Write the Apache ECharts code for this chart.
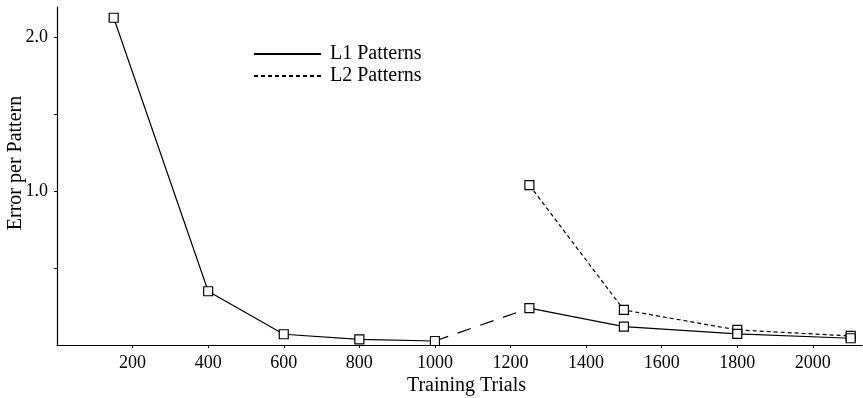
<!DOCTYPE html>
<html>
<head>
<meta charset="utf-8">
<script src="https://cdn.jsdelivr.net/npm/echarts@6/dist/echarts.min.js"></script>
<style>
  html, body { margin: 0; padding: 0; background: #fff; }
  #chart { width: 863px; height: 398px; }
</style>
</head>
<body>
<div id="chart"></div>
<script>
// values
const trialsL1 = [150, 400, 600, 800, 1000, 1250, 1500, 1800, 2100]
const errorL1 = [2.13, 0.35, 0.07, 0.037, 0.026, 0.24, 0.12, 0.072, 0.044]
const trialsL2 = [1250, 1500, 1800, 2100]
const errorL2 = [1.04, 0.228, 0.098, 0.059]
const xTicks = [200, 400, 600, 800, 1000, 1200, 1400, 1600, 1800, 2000]
const yLabels = [1, 2]
const yTicks = [0.5, 1, 1.5, 2]

const serif = '"Liberation Serif", "DejaVu Serif", serif'

// L1 is solid except the 1000 -> 1250 stretch, which is long-dashed
const breakAt = 4
const l1Solid = []
trialsL1.forEach((t, i) => {
  l1Solid.push([t, errorL1[i]])
  if (i === breakAt) l1Solid.push([(t + trialsL1[i + 1]) / 2, '-'])
})
const l1Bridge = [
  [trialsL1[breakAt], errorL1[breakAt]],
  [trialsL1[breakAt + 1], errorL1[breakAt + 1]]
]
const l2Data = trialsL2.map((t, i) => [t, errorL2[i]])

const chart = echarts.init(document.getElementById('chart'))

const squares = {
  symbol: 'rect',
  symbolSize: 9,
  itemStyle: { color: '#fff', borderColor: '#000', borderWidth: 1.2 }
}

chart.setOption({
  animation: false,
  backgroundColor: '#fff',
  grid: { left: 57, right: 1, top: 7, bottom: 53, outerBoundsMode: 'none' },
  legend: {
    orient: 'vertical',
    left: 248,
    top: 39,
    itemWidth: 67,
    itemHeight: 14,
    itemGap: 2,
    itemStyle: { opacity: 0 },
    textStyle: { fontFamily: serif, fontSize: 20, color: '#000', padding: [0, 0, 0, 4] },
    data: ['L1 Patterns', 'L2 Patterns']
  },
  xAxis: {
    type: 'value',
    min: 0,
    max: 2130,
    name: 'Training Trials',
    nameLocation: 'middle',
    nameGap: 31,
    nameMoveOverlap: false,
    nameTextStyle: { fontFamily: serif, fontSize: 20, color: '#000', padding: [0, 0, 0, 14] },
    axisLine: { lineStyle: { color: '#000', width: 1.2 } },
    axisTick: { customValues: xTicks, length: 3, lineStyle: { color: '#000' } },
    axisLabel: {
      customValues: xTicks,
      formatter: v => String(v),
      fontFamily: serif, fontSize: 18, color: '#000', margin: 9
    },
    splitLine: { show: false }
  },
  yAxis: {
    type: 'value',
    min: 0,
    max: 2.2,
    name: 'Error per Pattern',
    nameLocation: 'middle',
    nameGap: 31,
    nameMoveOverlap: false,
    nameTextStyle: { fontFamily: serif, fontSize: 20, color: '#000', padding: [0, 0, 0, 26] },
    axisLine: { show: true, lineStyle: { color: '#000', width: 1.2 } },
    axisTick: { show: true, customValues: yTicks, length: 3, lineStyle: { color: '#000' } },
    axisLabel: {
      customValues: yLabels,
      formatter: v => v.toFixed(1),
      fontFamily: serif, fontSize: 18, color: '#000', margin: 9
    },
    splitLine: { show: false }
  },
  series: [
    {
      name: 'L1 Bridge',
      type: 'line',
      data: l1Bridge,
      symbol: 'none',
      lineStyle: { color: '#000', width: 1.2, type: [14, 10] },
      z: 1
    },
    {
      name: 'L2 Patterns',
      type: 'line',
      data: l2Data,
      ...squares,
      lineStyle: { color: '#000', width: 1.2, type: [4, 3] },
      z: 2
    },
    {
      name: 'L1 Patterns',
      type: 'line',
      data: l1Solid,
      connectNulls: false,
      ...squares,
      lineStyle: { color: '#000', width: 1.2, type: 'solid' },
      z: 3
    }
  ]
})
</script>
</body>
</html>
